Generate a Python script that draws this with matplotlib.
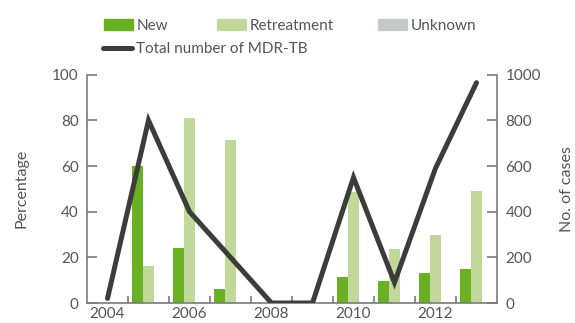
import matplotlib
matplotlib.use("Agg")
import matplotlib.pyplot as plt
from matplotlib.patches import Patch
from matplotlib.lines import Line2D
import numpy as np

plt.rcParams['font.family'] = ['Lato', 'DejaVu Sans']

years = [2004, 2005, 2006, 2007, 2008, 2009, 2010, 2011, 2012, 2013]
pct_new = [0, 60, 24, 6, 0, 0, 11.5, 9.7, 13.3, 15]
pct_retreatment = [0, 16, 81, 71.5, 0, 0, 48.5, 23.5, 30, 49]
pct_unknown = [0, 0, 0, 0, 0, 0, 0, 0, 0, 0]
total_mdr = [20, 800, 400, 200, 0, 0, 550, 90, 590, 965]

C_NEW = '#6ab023'
C_RET = '#c0d99a'
C_UNK = '#c6c7c9'
C_LINE = '#3c3c3c'
C_TEXT = '#555555'
C_AXIS = '#7a7a7a'

fig = plt.figure(figsize=(5.75, 3.23), dpi=100)
ax = fig.add_axes([0.1513, 0.0619, 0.7130, 0.7068])
ax2 = ax.twinx()

x = np.array(years, dtype=float)
w = 0.27
ax.bar(x - w, pct_new, width=w, color=C_NEW, zorder=2)
ax.bar(x, pct_retreatment, width=w, color=C_RET, zorder=2)
ax.bar(x + w, pct_unknown, width=w, color=C_UNK, zorder=2)

ax2.plot(x, total_mdr, color=C_LINE, lw=3.6, solid_capstyle='round',
         solid_joinstyle='miter', zorder=3)

ax.set_xlim(2003.5, 2013.5)
ax.set_ylim(0, 100)
ax2.set_ylim(0, 1000)

ax.set_xticks([2004, 2006, 2008, 2010, 2012])
ax.set_xticks(np.arange(2004.5, 2013.0, 1.0), minor=True)
ax.set_yticks(range(0, 101, 20))
ax2.set_yticks(range(0, 1001, 200))

for a in (ax, ax2):
    a.spines['top'].set_visible(False)
    for s in a.spines.values():
        s.set_color(C_AXIS)
        s.set_linewidth(1.2)
ax.spines['right'].set_visible(False)
ax2.spines['left'].set_visible(False)
ax2.spines['bottom'].set_visible(False)

ax.tick_params(axis='x', which='major', length=0, pad=3, labelsize=11,
               labelcolor=C_TEXT)
ax.tick_params(axis='x', which='minor', direction='in', length=5,
               width=1.2, color=C_AXIS)
ax.tick_params(axis='y', direction='in', length=7.5, width=1.2, color=C_AXIS,
               pad=6, labelsize=11, labelcolor=C_TEXT)
ax2.tick_params(axis='y', direction='in', length=7.5, width=1.2, color=C_AXIS,
                pad=6, labelsize=11, labelcolor=C_TEXT)

ax.set_ylabel('Percentage', fontsize=11.5, color=C_TEXT, labelpad=17)
ax2.set_ylabel('No. of cases', fontsize=11.5, color=C_TEXT, labelpad=14)

# legend entries placed one by one
items = [
    (Patch(color=C_NEW), 'New', 104),
    (Patch(color=C_RET), 'Retreatment', 217),
    (Patch(color=C_UNK), 'Unknown', 378),
]
for handle, label, px in items:
    fig.legend(handles=[handle], labels=[label], loc='center left',
               bbox_to_anchor=(px / 575, 1 - 26 / 323), frameon=False,
               fontsize=11, labelcolor=C_TEXT, handlelength=1.9,
               handleheight=0.75, handletextpad=0.25, borderpad=0,
               borderaxespad=0)
fig.legend(handles=[Line2D([], [], color=C_LINE, lw=3.6, solid_capstyle='round')],
           labels=['Total number of MDR-TB'], loc='center left',
           bbox_to_anchor=(103 / 575, 1 - 49 / 323), frameon=False,
           fontsize=11, labelcolor=C_TEXT, handlelength=1.9,
           handletextpad=0.25, borderpad=0, borderaxespad=0)

fig.savefig('out.png', dpi=100)
